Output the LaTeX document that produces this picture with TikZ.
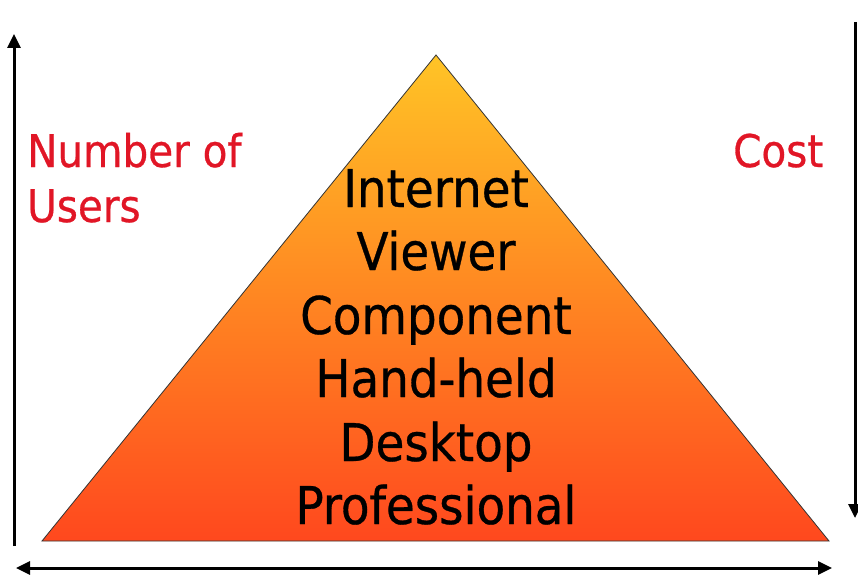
\documentclass[tikz,border=0pt]{standalone}
\usepackage{fontspec}
\setmainfont{DejaVu Sans Condensed}
\newfontfamily\pyrfont[UprightFeatures={FakeBold=0.6}]{DejaVu Sans Condensed}
\usetikzlibrary{arrows.meta}
\definecolor{topy}{RGB}{255,196,38}
\definecolor{midy}{RGB}{254,150,40}
\definecolor{boty}{RGB}{255,72,30}
\definecolor{labred}{RGB}{225,22,38}
\tikzset{
  axis/.style={line width=3pt, -{Triangle[length=14pt,width=13pt]}},
  biaxis/.style={line width=3pt, {Triangle[length=14pt,width=13pt]}-{Triangle[length=14pt,width=13pt]}},
  level/.style={anchor=base, inner sep=0pt, font=\pyrfont\fontsize{52}{60}\selectfont, text=black},
  redlab/.style={anchor=base west, inner sep=0pt, font=\pyrfont\fontsize{45}{54}\selectfont, text=labred}
}
\begin{document}
\begin{tikzpicture}[x=1pt,y=-1pt]
\useasboundingbox (0,0) rectangle (858,575);
% pyramid
\coordinate (apex) at (436,55);
\coordinate (bl) at (42,541);
\coordinate (br) at (829,541);
\shade[top color=topy, middle color=midy, bottom color=boty] (apex) -- (bl) -- (br) -- cycle;
\draw[line width=0.8pt, black!80] (apex) -- (bl) -- (br) -- cycle;
% levels
\node[level] (l1) at (436,207) {Internet};
\node[level] (l2) at (436,270) {Viewer};
\node[level] (l3) at (436,334) {Component};
\node[level] (l4) at (436,397) {Hand-held};
\node[level] (l5) at (436,461) {Desktop};
\node[level] (l6) at (436,524) {Professional};
% labels
\node[redlab] (n1) at (27,167) {Number of};
\node[redlab] (n2) at (27,222) {Users};
\node[redlab] (c1) at (733,167) {Cost};
% axes
\coordinate (la0) at (14,546);
\coordinate (la1) at (14,34);
\draw[axis] (la0) -- (la1);
\coordinate (ra0) at (855,22);
\coordinate (ra1) at (855,518);
\draw[axis] (ra0) -- (ra1);
\coordinate (ba0) at (16,568);
\coordinate (ba1) at (832,568);
\draw[biaxis] (ba0) -- (ba1);
\end{tikzpicture}
\end{document}
